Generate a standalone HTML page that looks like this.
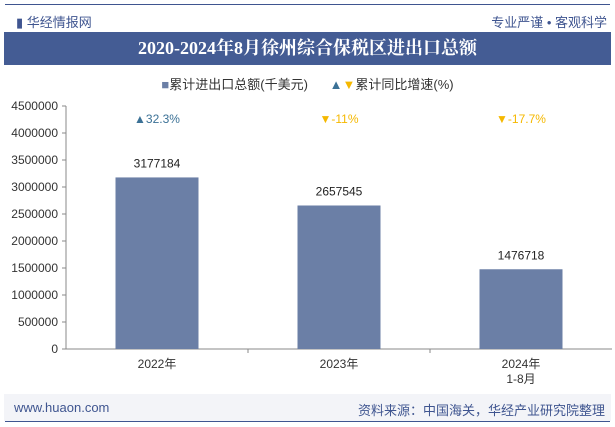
<!DOCTYPE html>
<html><head><meta charset="utf-8"><style>
body{margin:0;width:615px;height:427px;background:#fff;font-family:"Liberation Sans","Noto Sans CJK SC",sans-serif;overflow:hidden;position:relative}
.a{position:absolute}
</style></head><body>
<div class="a" style="left:5px;top:4px;width:605px;height:1px;background:#3f5590"></div>
<div class="a" style="left:16px;top:12px;font-size:13px;color:#3f5590">▮ 华经情报网</div>
<div class="a" style="right:8px;top:12px;font-size:13px;color:#3f5590">专业严谨 • 客观科学</div>
<div class="a" style="left:4px;top:32px;width:607px;height:33px;background:#445c94;color:#fff;font-family:'Liberation Serif','Noto Serif CJK SC',serif;font-weight:bold;font-size:18px;line-height:33px;text-align:center">2020-2024年8月徐州综合保税区进出口总额</div>
<div class="a" style="left:0;width:615px;top:74px;text-align:center;font-size:13px;color:#333">
<span><span style="color:#6b7fa6">■</span>累计进出口总额(千美元)</span>&nbsp;&nbsp;&nbsp;&nbsp;&nbsp;
<span><span style="color:#3b7196">▲</span><span style="color:#f5b800">▼</span>累计同比增速(%)</span></div>
<svg class="a" style="left:0;top:0" width="615" height="427"><g id="g"></g></svg>
<div class="a" style="left:4px;top:394px;width:607px;height:27px;background:#f3f4f8"></div>
<div class="a" style="left:5px;top:421px;width:605px;height:1px;background:#3f5590"></div>
<div class="a" style="left:14px;top:400px;font-size:13px;color:#3f5590">www.huaon.com</div>
<div class="a" style="right:10px;top:400px;font-size:13px;color:#3f5590">资料来源：中国海关，华经产业研究院整理</div>
<script>
const categories=["2022年","2023年","2024年|1-8月"];
const values=[3177184,2657545,1476718];
const growth=[32.3,-11,-17.7];
const ticks=[0,500000,1000000,1500000,2000000,2500000,3000000,3500000,4000000,4500000];
const ns="http://www.w3.org/2000/svg",g=document.getElementById('g');
const x0=66,x1=612,y0=349,yt=106,max=4500000;
const y=v=>y0-(v/max)*(y0-yt);
const cw=(x1-x0)/categories.length;
const xc=i=>x0+cw*(i+0.5);
function mk(t,a,txt){const e=document.createElementNS(ns,t);for(const k in a)e.setAttribute(k,a[k]);if(txt!=null)e.textContent=txt;g.appendChild(e);return e;}
let e=mk('line',{x1:x0,x2:x0,y1:yt,y2:y0,stroke:'#888'});

e=mk('line',{x1:x0,x2:x1,y1:y0,y2:y0,stroke:'#888'});

ticks.forEach(t=>{
 mk('line',{x1:x0-4,x2:x0,y1:y(t),y2:y(t),stroke:'#888'});
 e=mk('text',{x:x0-8,y:y(t)+4,'text-anchor':'end','font-size':12,fill:'#333'},t);
 
});
categories.forEach((c,i)=>{
 if(i>0)mk('line',{x1:x0+cw*i,x2:x0+cw*i,y1:y0,y2:y0+4,stroke:'#888'});
 c.split('|').forEach((p,j)=>{e=mk('text',{x:xc(i),y:y0+19+j*15,'text-anchor':'middle','font-size':12,fill:'#333'},p);
 });
 const bw=83;
 e=mk('rect',{x:xc(i)-bw/2,y:y(values[i]),width:bw,height:y0-y(values[i]),fill:'#6b7fa6'});
 
 e=mk('text',{x:xc(i),y:y(values[i])-10,'text-anchor':'middle','font-size':12,fill:'#222'},values[i]);
 
 const up=growth[i]>=0;
 e=mk('text',{x:xc(i),y:123,'text-anchor':'middle','font-size':12,fill:up?'#3b7196':'#f5b800'},(up?'▲':'▼')+growth[i]+'%');
 
});
</script>
</body></html>
